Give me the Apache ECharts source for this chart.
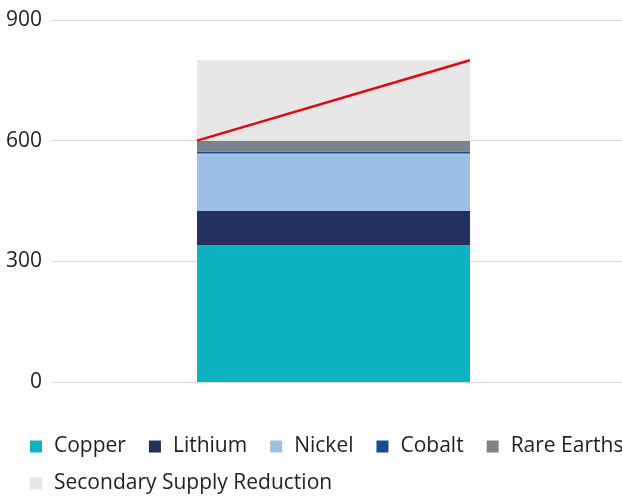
<!DOCTYPE html>
<html>
<head>
<meta charset="utf-8">
<script src="https://cdn.jsdelivr.net/npm/echarts@6/dist/echarts.min.js"></script>
<style>
  html, body { margin: 0; padding: 0; background: #fff; }
  #chart { width: 622px; height: 496px; }
</style>
</head>
<body>
<div id="chart"></div>
<script>
// Stacked demand bar with the secondary-supply cushion on top
const categories = ['Demand'];
const copper = [340];
const lithium = [85];
const nickel = [143];
const cobalt = [5];
const rareEarths = [27];
const secondarySupply = [200];
const yTicks = { min: 0, max: 900, interval: 300 };

const seriesNames = ['Copper', 'Lithium', 'Nickel', 'Cobalt', 'Rare Earths', 'Secondary Supply Reduction'];
const seriesColors = ['#0db3c1', '#24305e', '#9fc0e6', '#1b4a90', '#7b848c', '#e7e7e7'];
const seriesData = [copper, lithium, nickel, cobalt, rareEarths, secondarySupply];

const BAR_W = 273;
const FONT = '"Open Sans", "Noto Sans", sans-serif';

// Primary-only total and total including secondary supply, for the trend line
const primaryTotal = categories.map((_, i) =>
  copper[i] + lithium[i] + nickel[i] + cobalt[i] + rareEarths[i]);
const fullTotal = categories.map((_, i) => primaryTotal[i] + secondarySupply[i]);

const chart = echarts.init(document.getElementById('chart'), null, { renderer: 'canvas' });

const barSeries = seriesNames.map((name, k) => ({
  name,
  type: 'bar',
  stack: 'total',
  xAxisIndex: 1,
  yAxisIndex: 1,
  barWidth: BAR_W,
  itemStyle: { color: seriesColors[k] },
  emphasis: { disabled: true },
  data: seriesData[k]
}));

const legendItemStyle = {
  itemWidth: 12,
  itemHeight: 12,
  icon: 'rect',
  itemGap: 23,
  width: 760,
  textStyle: { fontFamily: FONT, fontSize: 21, color: '#1f1f1f', padding: [0, 0, 0, 7] }
};

chart.setOption({
  animation: false,
  grid: [
    { left: 52, right: 0, top: 20, bottom: 114 },
    { left: 52, right: 7, top: 20, bottom: 114 }
  ],
  xAxis: [
    { type: 'category', gridIndex: 0, data: categories, show: false },
    { type: 'category', gridIndex: 1, data: categories, show: false }
  ],
  yAxis: [
    {
      type: 'value', gridIndex: 0,
      min: yTicks.min, max: yTicks.max, interval: yTicks.interval,
      axisLine: { show: false }, axisTick: { show: false },
      axisLabel: { fontFamily: FONT, fontSize: 21, color: '#1f1f1f', margin: 10 },
      splitLine: { lineStyle: { color: '#dcdcdc', width: 1 } }
    },
    {
      type: 'value', gridIndex: 1,
      min: yTicks.min, max: yTicks.max, interval: yTicks.interval,
      show: false, splitLine: { show: false }
    }
  ],
  legend: [
    Object.assign({ left: 25, top: 431, data: seriesNames.slice(0, 5) }, legendItemStyle),
    Object.assign({ left: 25, top: 468, data: seriesNames.slice(5) }, legendItemStyle)
  ],
  series: barSeries.concat([{
    type: 'custom',
    xAxisIndex: 1,
    yAxisIndex: 1,
    z: 10,
    data: categories.map((_, i) => [i, primaryTotal[i], fullTotal[i]]),
    renderItem: function (params, api) {
      const start = api.coord([api.value(0), api.value(1)]);
      const end = api.coord([api.value(0), api.value(2)]);
      const half = BAR_W / 2;
      return {
        type: 'line',
        shape: { x1: start[0] - half, y1: start[1], x2: end[0] + half, y2: end[1] },
        style: { stroke: '#e30613', lineWidth: 2.5 }
      };
    }
  }])
});
</script>
</body>
</html>
